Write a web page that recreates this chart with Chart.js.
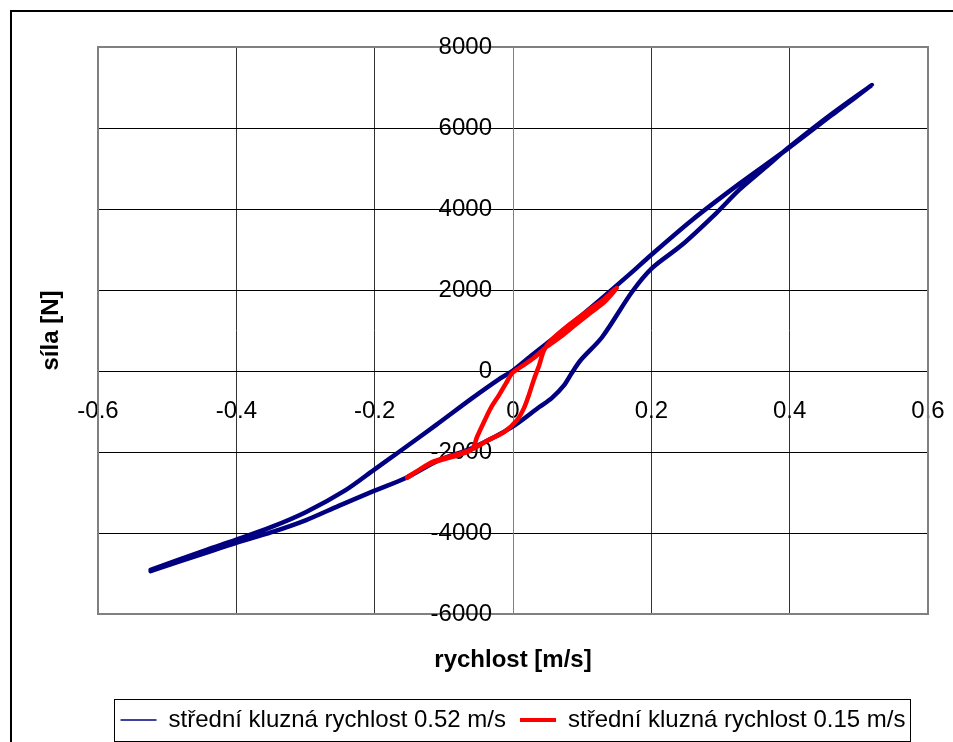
<!DOCTYPE html>
<html>
<head>
<meta charset="utf-8">
<title>síla / rychlost</title>
<script src="https://cdn.jsdelivr.net/npm/chart.js@4.4.1/dist/chart.umd.min.js"></script>
<style>
  html, body { margin: 0; padding: 0; background: #fff; }
  #wrap { position: relative; width: 953px; height: 742px; overflow: hidden; }
</style>
</head>
<body>
<div id="wrap"><canvas id="forceChart" width="953" height="742"></canvas></div>
<script>
// Axis ticks
const speedTicks = [-0.6, -0.4, -0.2, 0, 0.2, 0.4, 0.6];
const forceTicks = [-6000, -4000, -2000, 0, 2000, 4000, 6000, 8000];

const seriesNames = ['střední kluzná rychlost 0.52 m/s', 'střední kluzná rychlost 0.15 m/s'];

// 0.52 m/s loop: upper branch left -> right, then lower branch back
const fastSpeed = [
  -0.524, -0.444, -0.401, -0.349, -0.299, -0.242, -0.201, -0.165, -0.111, -0.059, -0.020, -0.001,
  0.028, 0.077, 0.124, 0.172, 0.198, 0.259, 0.327, 0.395, 0.461, 0.519,
  0.461, 0.398, 0.366, 0.327, 0.294, 0.244, 0.201, 0.172, 0.129, 0.098, 0.085, 0.074, 0.056, 0.038,
  -0.001, -0.059, -0.107, -0.155, -0.201, -0.252, -0.299, -0.349, -0.401, -0.444, -0.524
];
const fastForce = [
  -4910, -4420, -4170, -3850, -3480, -2940, -2440, -2000, -1330, -670, -200, 0,
  400, 1060, 1730, 2440, 2840, 3730, 4620, 5460, 6320, 7060,
  6350, 5510, 5040, 4470, 3900, 3110, 2540, 1950, 840, 270, -50, -350, -670, -890,
  -1380, -1900, -2200, -2640, -2960, -3330, -3680, -3980, -4250, -4490, -4940
];

// 0.15 m/s loop
const slowSpeed = [
  -0.153, -0.117, -0.078, -0.059, -0.052, -0.042, -0.032, -0.020, -0.010, -0.001,
  0.013, 0.030, 0.048, 0.067, 0.088, 0.110, 0.132, 0.150,
  0.132, 0.110, 0.081, 0.056, 0.045, 0.038, 0.030, 0.023, 0.016, 0.006,
  -0.013, -0.035, -0.059, -0.085, -0.117, -0.153
];
const slowForce = [
  -2620, -2270, -2070, -1930, -1630, -1260, -910, -590, -300, -50,
  120, 320, 590, 820, 1110, 1410, 1700, 2050,
  1780, 1510, 1140, 770, 520, 150, -220, -590, -910, -1210,
  -1510, -1700, -1930, -2080, -2250, -2640
];

const toPoints = (xs, ys) => xs.map((x, i) => ({ x: x, y: ys[i] }));

const FONT = "'Liberation Sans', Arial, sans-serif";
Chart.defaults.font.family = FONT;
Chart.defaults.color = '#000';

// plot-area frame, force labels beside the zero axis, outer frame and legend box
const frames = {
  id: 'frames',
  beforeDatasetsDraw(chart) {
    const { ctx, chartArea: a, scales } = chart;
    ctx.save();
    ctx.strokeStyle = '#808080';
    ctx.lineWidth = 2;
    ctx.strokeRect(a.left, a.top, a.right - a.left, a.bottom - a.top);

    // the library puts centred y labels flush on the axis, so set them off by hand
    const x0 = scales.x.getPixelForValue(0) - 21;
    ctx.fillStyle = '#000';
    ctx.font = '24px ' + FONT;
    ctx.textAlign = 'right';
    ctx.textBaseline = 'middle';
    forceTicks.forEach(v => {
      ctx.fillText(String(v), x0, scales.y.getPixelForValue(v));
    });
    ctx.restore();
  },
  afterDraw(chart) {
    const ctx = chart.ctx;
    ctx.save();
    ctx.strokeStyle = '#000';
    ctx.lineWidth = 2;
    ctx.strokeRect(11, 11, 1000, 1000);
    const boxes = chart.legend.legendHitBoxes || [];
    if (boxes.length) {
      const first = boxes[0], last = boxes[boxes.length - 1];
      const x0 = Math.round(first.left - 7) + 0.5;
      const x1 = Math.round(last.left + last.width + 5) + 0.5;
      const y0 = Math.round(first.top - 9) + 0.5;
      const y1 = Math.round(first.top + first.height + 9) + 0.5;
      ctx.lineWidth = 1;
      ctx.strokeRect(x0, y0, x1 - x0, y1 - y0);
    }
    ctx.restore();
  }
};

const ctx = document.getElementById('forceChart').getContext('2d');
new Chart(ctx, {
  type: 'scatter',
  data: {
    datasets: [{
      label: seriesNames[0],
      data: toPoints(fastSpeed, fastForce),
      showLine: true,
      borderColor: '#000080',
      backgroundColor: '#000080',
      borderWidth: 4.5,
      pointRadius: 0,
      tension: 0.3,
      borderJoinStyle: 'round',
      borderCapStyle: 'round',
      order: 1
    }, {
      label: seriesNames[1],
      data: toPoints(slowSpeed, slowForce),
      showLine: true,
      borderColor: '#FF0000',
      backgroundColor: '#FF0000',
      borderWidth: 4.5,
      pointRadius: 0,
      tension: 0.3,
      borderJoinStyle: 'round',
      borderCapStyle: 'round',
      order: 0
    }]
  },
  options: {
    responsive: false,
    animation: false,
    devicePixelRatio: 1,
    layout: { padding: { left: 12, right: 25, top: 47, bottom: 0 } },
    plugins: {
      tooltip: { enabled: false },
      title: {
        display: true,
        position: 'left',
        text: 'síla [N]',
        fullSize: false,
        color: '#000',
        font: { size: 24, weight: 'bold' },
        padding: { top: 24.6, bottom: 32.6 }
      },
      subtitle: {
        display: true,
        position: 'bottom',
        text: 'rychlost [m/s]',
        fullSize: false,
        weight: 500,
        color: '#000',
        font: { size: 24, weight: 'bold' },
        padding: { top: 31.6, bottom: 19.6 }
      },
      legend: {
        display: true,
        position: 'bottom',
        fullSize: false,
        weight: 1000,
        labels: {
          color: '#000',
          font: { size: 24 },
          padding: 14,
          usePointStyle: true,
          pointStyle: 'line',
          pointStyleWidth: 36,
          sort: (a, b) => a.datasetIndex - b.datasetIndex,
          generateLabels(chart) {
            const items = Chart.defaults.plugins.legend.labels.generateLabels(chart);
            items.forEach(item => {
              item.lineWidth = item.datasetIndex === 0 ? 1.5 : 4;
            });
            return items;
          }
        }
      }
    },
    scales: {
      x: {
        type: 'linear',
        position: { y: 0 },
        min: -0.6,
        max: 0.6,
        afterBuildTicks: scale => { scale.ticks = speedTicks.map(v => ({ value: v })); },
        afterFit: scale => { scale.paddingLeft = 0; scale.paddingRight = 0; },
        grid: { color: '#333', lineWidth: 1, tickLength: 7 },
        border: { color: '#000', width: 1 },
        ticks: {
          color: '#000',
          font: { size: 24 },
          padding: 19,
          maxRotation: 0,
          autoSkip: false,
          callback: v => String(Math.round(v * 10) / 10)
        }
      },
      y: {
        type: 'linear',
        position: { x: 0 },
        min: -6000,
        max: 8000,
        afterBuildTicks: scale => { scale.ticks = forceTicks.map(v => ({ value: v })); },
        grid: { color: '#000', lineWidth: 1, tickLength: 7 },
        border: { color: '#808080', width: 1 },
        ticks: { display: false }
      }
    }
  },
  plugins: [frames]
});
</script>
</body>
</html>
